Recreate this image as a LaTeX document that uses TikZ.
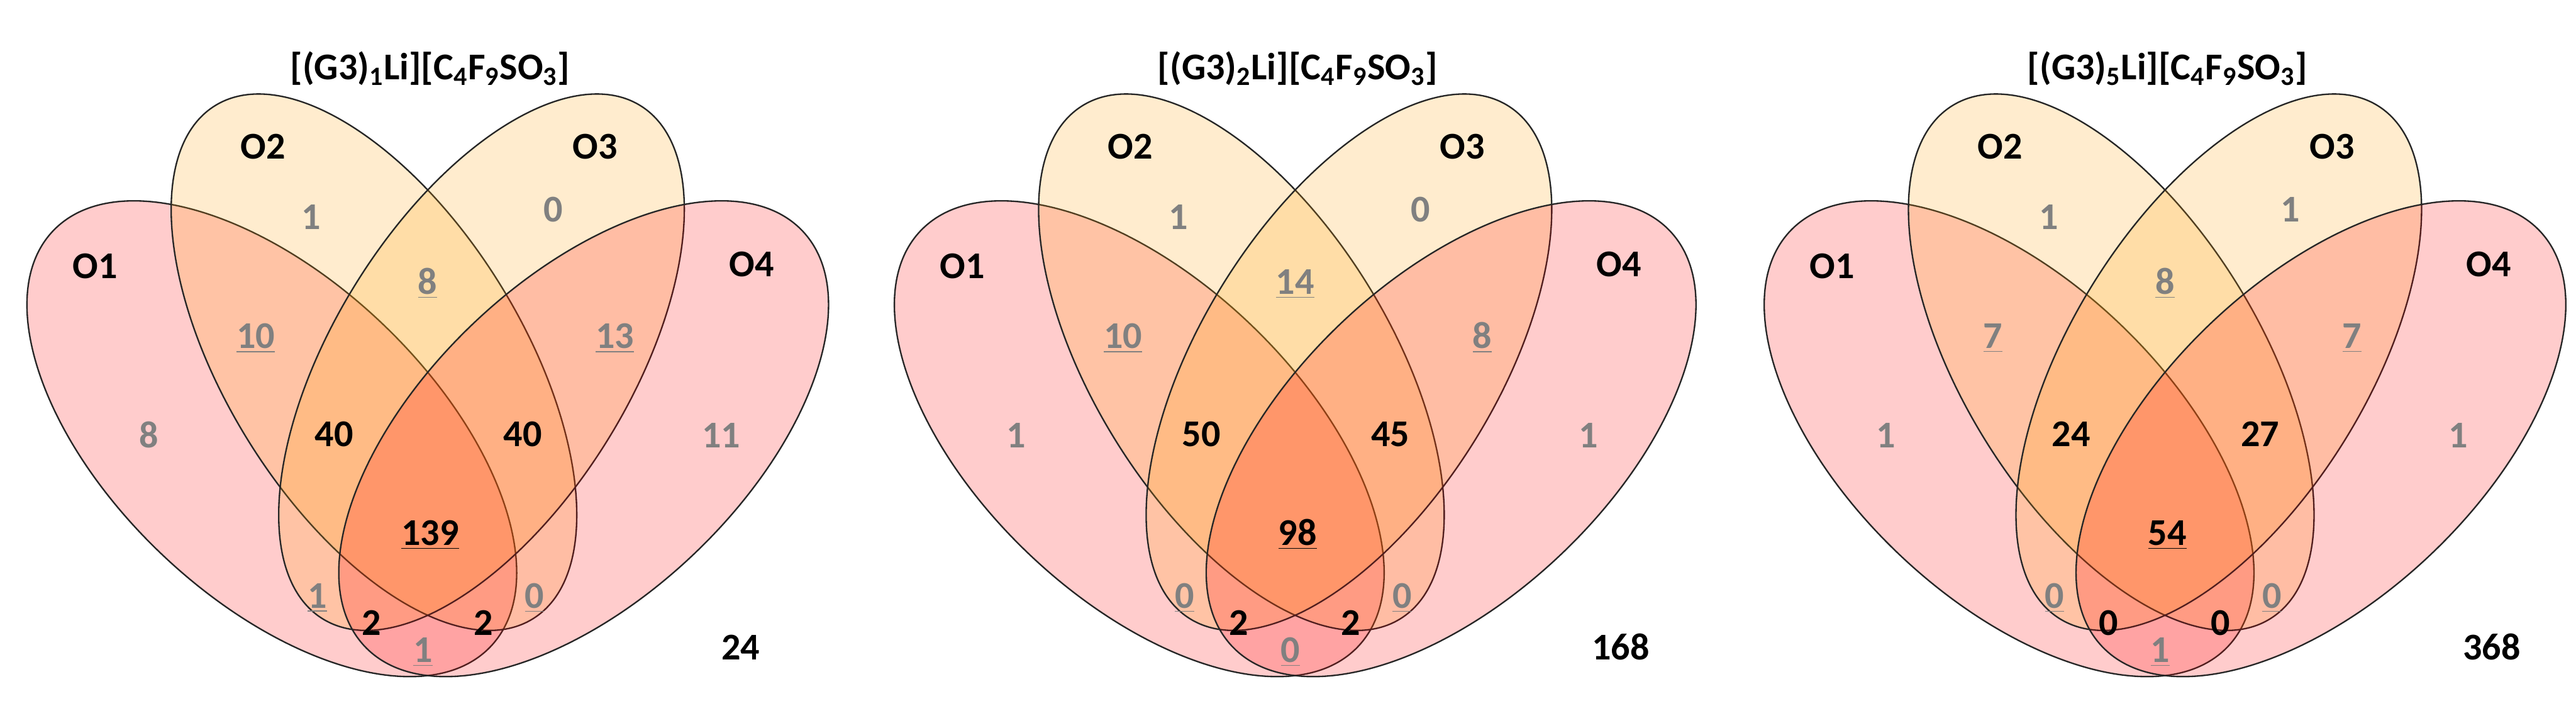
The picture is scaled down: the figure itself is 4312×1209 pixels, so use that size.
\documentclass[tikz,border=0pt]{standalone}
\usepackage{fontspec}
\setmainfont{Carlito}
\usetikzlibrary{shapes.geometric}
\definecolor{vred}{RGB}{255,0,0}
\definecolor{vorange}{RGB}{255,160,10}
\definecolor{numgray}{RGB}{128,128,128}

\begin{document}
\begin{tikzpicture}[
  x=0.1mm, y=0.1mm,
  font=\bfseries\fontsize{18}{20}\selectfont,
  every node/.style={text height=11.5pt, text depth=0pt},
  outell/.style={ellipse, draw=black!85, line width=0.7pt, fill=vred,
                 fill opacity=0.2, draw opacity=1, inner sep=0pt,
                 minimum width=101mm, minimum height=53.4mm},
  inell/.style={outell, fill=vorange, minimum height=49.6mm},
  cnt/.style={text=numgray}
]
\useasboundingbox (0,0) rectangle (4312,-1209);

% Venn 1
\begin{scope}[shift={(716,0)}]
\node[outell, rotate=-43.5] (A-e1) at (-261,-734) {};
\node[inell, rotate=-58.2]  (A-e2) at (-90,-606) {};
\node[inell, rotate=58.2]   (A-e3) at (90,-606) {};
\node[outell, rotate=43.5]  (A-e4) at (261,-734) {};

\node (A-ttl) at (4,-113) {[(G3)\textsubscript{1}Li][C\textsubscript{4}F\textsubscript{9}SO\textsubscript{3}]};
\node (A-o1) at (-557,-446) {O1};
\node (A-o2) at (-276,-246) {O2};
\node (A-o3) at (280,-246)  {O3};
\node (A-o4) at (542,-442)  {O4};

\node[cnt] (A-n1)  at (-467,-729) {8};
\node[cnt] (A-n2)  at (-195,-363) {1};
\node[cnt] (A-n3)  at (210,-351)  {0};
\node[cnt] (A-n4)  at (491,-729)  {11};
\node[cnt] (A-n12) at (-288,-563) {\underline{10}};
\node[cnt] (A-n23) at (0,-472)    {\underline{8}};
\node[cnt] (A-n34) at (313,-563)  {\underline{13}};
\node[cnt] (A-n13) at (-185,-997) {\underline{1}};
\node[cnt] (A-n24) at (179,-997)  {\underline{0}};
\node[cnt] (A-n14) at (-8,-1088)  {\underline{1}};
\node (A-n123)  at (-157,-727) {40};
\node (A-n234)  at (159,-727)  {40};
\node (A-n134)  at (-94,-1043) {2};
\node (A-n124)  at (93,-1043)  {2};
\node (A-n1234) at (4,-892)    {\underline{139}};
\node (A-tot)   at (524,-1084) {24};
\end{scope}

% Venn 2
\begin{scope}[shift={(2168,0)}]
\node[outell, rotate=-43.5] (B-e1) at (-261,-734) {};
\node[inell, rotate=-58.2]  (B-e2) at (-90,-606) {};
\node[inell, rotate=58.2]   (B-e3) at (90,-606) {};
\node[outell, rotate=43.5]  (B-e4) at (261,-734) {};

\node (B-ttl) at (4,-113) {[(G3)\textsubscript{2}Li][C\textsubscript{4}F\textsubscript{9}SO\textsubscript{3}]};
\node (B-o1) at (-557,-446) {O1};
\node (B-o2) at (-276,-246) {O2};
\node (B-o3) at (280,-246)  {O3};
\node (B-o4) at (542,-442)  {O4};

\node[cnt] (B-n1)  at (-467,-729) {1};
\node[cnt] (B-n2)  at (-195,-363) {1};
\node[cnt] (B-n3)  at (210,-351)  {0};
\node[cnt] (B-n4)  at (491,-729)  {1};
\node[cnt] (B-n12) at (-288,-563) {\underline{10}};
\node[cnt] (B-n23) at (0,-472)    {\underline{14}};
\node[cnt] (B-n34) at (313,-563)  {\underline{8}};
\node[cnt] (B-n13) at (-185,-997) {\underline{0}};
\node[cnt] (B-n24) at (179,-997)  {\underline{0}};
\node[cnt] (B-n14) at (-8,-1088)  {\underline{0}};
\node (B-n123)  at (-157,-727) {50};
\node (B-n234)  at (159,-727)  {45};
\node (B-n134)  at (-94,-1043) {2};
\node (B-n124)  at (93,-1043)  {2};
\node (B-n1234) at (4,-892)    {\underline{98}};
\node (B-tot)   at (545,-1084) {168};
\end{scope}

% Venn 3
\begin{scope}[shift={(3624,0)}]
\node[outell, rotate=-43.5] (C-e1) at (-261,-734) {};
\node[inell, rotate=-58.2]  (C-e2) at (-90,-606) {};
\node[inell, rotate=58.2]   (C-e3) at (90,-606) {};
\node[outell, rotate=43.5]  (C-e4) at (261,-734) {};

\node (C-ttl) at (4,-113) {[(G3)\textsubscript{5}Li][C\textsubscript{4}F\textsubscript{9}SO\textsubscript{3}]};
\node (C-o1) at (-557,-446) {O1};
\node (C-o2) at (-276,-246) {O2};
\node (C-o3) at (280,-246)  {O3};
\node (C-o4) at (542,-442)  {O4};

\node[cnt] (C-n1)  at (-467,-729) {1};
\node[cnt] (C-n2)  at (-195,-363) {1};
\node[cnt] (C-n3)  at (210,-351)  {1};
\node[cnt] (C-n4)  at (491,-729)  {1};
\node[cnt] (C-n12) at (-288,-563) {\underline{7}};
\node[cnt] (C-n23) at (0,-472)    {\underline{8}};
\node[cnt] (C-n34) at (313,-563)  {\underline{7}};
\node[cnt] (C-n13) at (-185,-997) {\underline{0}};
\node[cnt] (C-n24) at (179,-997)  {\underline{0}};
\node[cnt] (C-n14) at (-8,-1088)  {\underline{1}};
\node (C-n123)  at (-157,-727) {24};
\node (C-n234)  at (159,-727)  {27};
\node (C-n134)  at (-94,-1043) {0};
\node (C-n124)  at (93,-1043)  {0};
\node (C-n1234) at (4,-892)    {\underline{54}};
\node (C-tot)   at (547,-1084) {368};
\end{scope}

\end{tikzpicture}
\end{document}
